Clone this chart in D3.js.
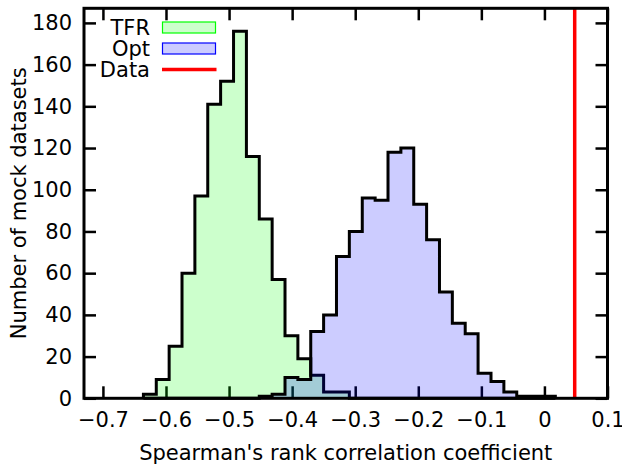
<!DOCTYPE html>
<html>
<head>
<meta charset="utf-8">
<script src="https://cdn.jsdelivr.net/npm/d3@7"></script>
<style>
  html, body { margin: 0; padding: 0; background: #fff; }
  svg { display: block; }
  text { font-family: "DejaVu Sans", sans-serif; fill: #000; }
</style>
</head>
<body>
<svg id="chart" width="622" height="466"></svg>
<script>
// ---- data ----
const binEdges = [-0.6358, -0.6154, -0.5950, -0.5746, -0.5542, -0.5338, -0.5134, -0.4929, -0.4725,
  -0.4521, -0.4317, -0.4113, -0.3909, -0.3705, -0.3501, -0.3297, -0.3093, -0.2888, -0.2684,
  -0.2480, -0.2276, -0.2072, -0.1868, -0.1664, -0.1460, -0.1256, -0.1052, -0.0847, -0.0643,
  -0.0439, -0.0235, -0.0031, 0.0173];
const tfrCounts = [2, 9, 25, 60, 97, 141, 152, 176, 116, 86, 57, 30, 19, 11, 3, 3,
  0, 0, 0, 0, 0, 0, 0, 0, 0, 0, 0, 0, 0, 0, 0, 0];
const optCounts = [0, 0, 0, 0, 0, 0, 0, 0, 0, 1, 2, 10, 9, 32, 40, 68,
  80, 96, 95, 118, 120, 93, 76, 51, 36, 31, 12, 8, 3, 1, 1, 1];
const dataValue = 0.048;
const xTicks = [-0.7, -0.6, -0.5, -0.4, -0.3, -0.2, -0.1, 0, 0.1];
const yTicks = [0, 20, 40, 60, 80, 100, 120, 140, 160, 180];
const legendLabels = ["TFR", "Opt", "Data"];
const xTitle = "Spearman's rank correlation coefficient";
const yTitle = "Number of mock datasets";

// ---- layout ----
const L = 84, R = 607.5, T = 8.3, B = 398.3;
const svg = d3.select("#chart");
const x = d3.scaleLinear().domain([-0.73, 0.1]).range([L, R]);
const y = d3.scaleLinear().domain([0, 187]).range([B, T]);
const fmtX = d => (d === 0 ? "0" : d3.format(".1f")(d));
const tickLen = 12, fs = 21;

// axes (ticks inward, drawn beneath fills)
function styleAxis(g) {
  g.select(".domain").remove();
  g.selectAll(".tick line").attr("stroke", "#000").attr("stroke-width", 2.5);
  g.selectAll(".tick text").style("font-size", fs + "px").style("font-family", "DejaVu Sans, sans-serif").attr("fill", "#000");
}
svg.append("g").attr("transform", `translate(0,${B})`)
  .call(d3.axisBottom(x).tickValues(xTicks).tickFormat(fmtX).tickSizeInner(-tickLen).tickSizeOuter(0).tickPadding(14))
  .call(styleAxis);
svg.append("g").attr("transform", `translate(0,${T})`)
  .call(d3.axisTop(x).tickValues(xTicks).tickFormat("").tickSizeInner(-tickLen).tickSizeOuter(0))
  .call(styleAxis);
svg.append("g").attr("transform", `translate(${L},0)`)
  .call(d3.axisLeft(y).tickValues(yTicks).tickSizeInner(-tickLen).tickSizeOuter(0).tickPadding(12))
  .call(styleAxis);
svg.append("g").attr("transform", `translate(${R},0)`)
  .call(d3.axisRight(y).tickValues(yTicks).tickFormat("").tickSizeInner(-tickLen).tickSizeOuter(0))
  .call(styleAxis);

// histograms
function histPoints(counts) {
  const pts = [[binEdges[0], 0]];
  counts.forEach((c, i) => pts.push([binEdges[i], c]));
  pts.push([binEdges[binEdges.length - 1], 0]);
  return pts;
}
const area = d3.area().curve(d3.curveStepAfter)
  .x(d => x(d[0])).y0(y(0)).y1(d => y(d[1]));
const line = d3.line().curve(d3.curveStepAfter)
  .x(d => x(d[0])).y(d => y(d[1]));

const series = [
  { counts: tfrCounts, fill: "rgba(0,255,0,0.2)" },
  { counts: optCounts, fill: "rgba(0,0,255,0.2)" }
];
series.forEach(s => {
  const pts = histPoints(s.counts);
  svg.append("path").attr("d", area(pts)).attr("fill", s.fill).attr("stroke", "none");
  svg.append("path").attr("d", line(pts)).attr("fill", "none")
    .attr("stroke", "#000").attr("stroke-width", 3).attr("stroke-linejoin", "miter");
});

// data line
svg.append("line").attr("x1", x(dataValue)).attr("x2", x(dataValue))
  .attr("y1", T).attr("y2", B).attr("stroke", "#ff0000").attr("stroke-width", 3.5);

// frame
svg.append("rect").attr("x", L).attr("y", T).attr("width", R - L).attr("height", B - T)
  .attr("fill", "none").attr("stroke", "#000").attr("stroke-width", 3);

// legend
const legY = [27.5, 48.5, 69.5];
const lg = svg.append("g");
legendLabels.forEach((lab, i) => {
  lg.append("text").attr("x", 150).attr("y", legY[i]).attr("dy", "0.35em")
    .attr("text-anchor", "end").style("font-size", fs + "px").text(lab);
});
lg.append("rect").attr("x", 162.5).attr("y", legY[0] - 5.5).attr("width", 53).attr("height", 11)
  .attr("fill", "rgba(0,255,0,0.2)").attr("stroke", "#00ff00").attr("stroke-width", 1.2);
lg.append("rect").attr("x", 162.5).attr("y", legY[1] - 5.5).attr("width", 53).attr("height", 11)
  .attr("fill", "rgba(0,0,255,0.2)").attr("stroke", "#0000ff").attr("stroke-width", 1.2);
lg.append("line").attr("x1", 162).attr("x2", 216.5).attr("y1", legY[2]).attr("y2", legY[2])
  .attr("stroke", "#ff0000").attr("stroke-width", 3.5);

// axis titles
svg.append("text").attr("x", (L + R) / 2).attr("y", 460).attr("text-anchor", "middle")
  .style("font-size", fs + "px").text(xTitle);
svg.append("text").attr("transform", `translate(26,${(T + B) / 2}) rotate(-90)`)
  .attr("text-anchor", "middle").style("font-size", fs + "px").text(yTitle);
</script>
</body>
</html>
